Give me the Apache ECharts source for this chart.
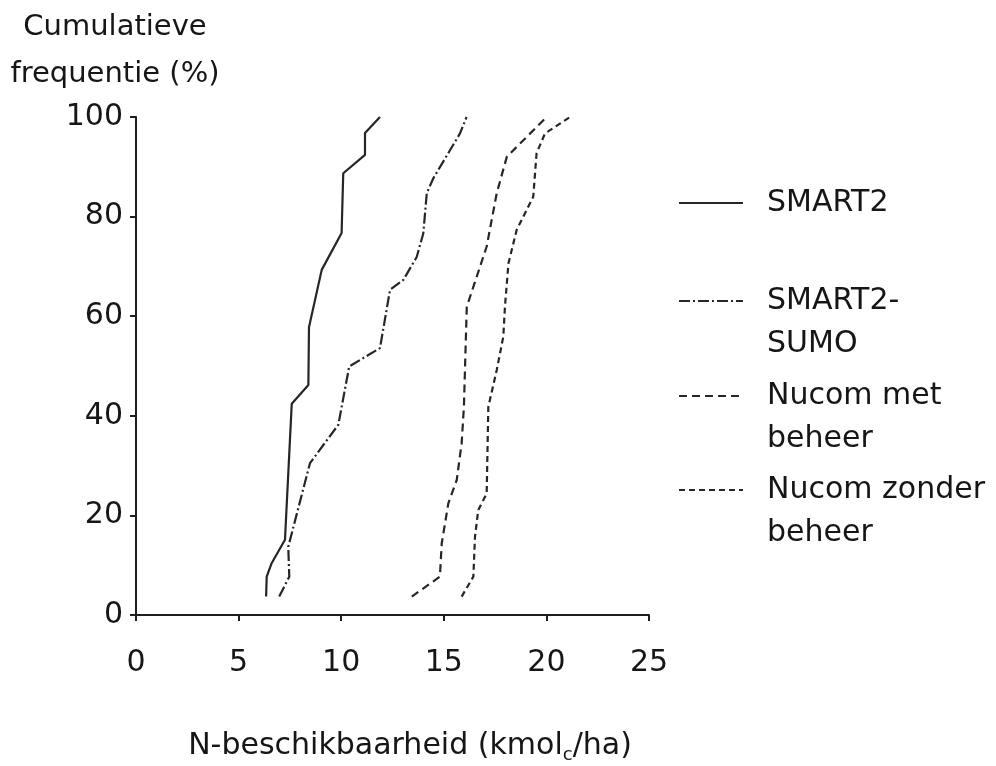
<!DOCTYPE html>
<html>
<head>
<meta charset="utf-8">
<title>N-beschikbaarheid</title>
<script src="https://cdn.jsdelivr.net/npm/echarts@6/dist/echarts.min.js"></script>
<style>
  html, body { margin: 0; padding: 0; background: #ffffff; }
  #chart { width: 996px; height: 766px; }
</style>
</head>
<body>
<div id="chart"></div>
<script>
// Cumulative frequency curves: [N availability (kmolc/ha), cumulative frequency (%)]
const smart2 = [
  [6.34, 3.7], [6.37, 7.7], [6.61, 10.4], [7.26, 15.1], [7.59, 42.4],
  [8.40, 46.2], [8.43, 57.8], [9.05, 69.3], [10.02, 76.7], [10.10, 88.7],
  [11.16, 92.4], [11.16, 96.8], [11.89, 100]
];
const smart2Sumo = [
  [6.98, 3.7], [7.47, 7.7], [7.42, 13.7], [8.48, 30.5], [9.86, 38.2],
  [10.39, 49.9], [11.89, 53.6], [12.38, 65.3], [13.03, 67.3], [13.68, 71.9],
  [14.00, 76.6], [14.17, 84.7], [14.49, 87.7], [15.79, 96.7], [16.11, 100]
];
const nucomMet = [
  [13.44, 3.7], [14.81, 7.7], [14.90, 14.4], [15.22, 22.4], [15.63, 27.1],
  [15.87, 34.5], [15.98, 41.8], [16.12, 61.9], [17.09, 74.0], [17.58, 84.7],
  [18.07, 92.0], [20.01, 100]
];
const nucomZonder = [
  [15.87, 3.7], [16.44, 7.7], [16.52, 15.7], [16.68, 21.1], [17.09, 24.4],
  [17.17, 41.8], [17.58, 49.2], [17.90, 55.9], [17.98, 61.9], [18.15, 70.6],
  [18.55, 77.3], [19.36, 84.0], [19.52, 92.7], [19.93, 96.7], [21.15, 100]
];

const seriesNames = ['SMART2', 'SMART2-SUMO', 'Nucom met beheer', 'Nucom zonder beheer'];
const legendLabels = [['SMART2'], ['SMART2-', 'SUMO'], ['Nucom met', 'beheer'], ['Nucom zonder', 'beheer']];
const xTicks = [0, 5, 10, 15, 20, 25];
const yTicks = [0, 20, 40, 60, 80, 100];

const FONT = 'DejaVu Sans';
const FS = 30;
const INK = '#161616';
const LINE = '#262626';
const LH = 43;

const chart = echarts.init(document.getElementById('chart'), null, { renderer: 'canvas' });

function lineSeries(name, data, type) {
  return {
    name: name,
    type: 'line',
    data: data,
    symbol: 'none',
    smooth: false,
    silent: true,
    lineStyle: { color: LINE, width: 2.2, type: type },
    itemStyle: { color: LINE }
  };
}

// One legend block per series. Two-line labels get an empty leading line so
// that the first text line sits level with the line sample.
const iconCenters = [203, 301, 396, 490];
const legends = seriesNames.map(function (name, i) {
  const lines = legendLabels[i];
  const text = lines.length > 1 ? '\n' + lines.join('\n') : lines[0];
  return {
    data: [name],
    orient: 'vertical',
    left: 678,
    top: lines.length > 1 ? iconCenters[i] - 1.5 * LH : iconCenters[i] - 0.5 * LH,
    padding: 0,
    itemWidth: 64,
    itemHeight: 14,
    selectedMode: false,
    itemStyle: { opacity: 0 },
    formatter: function () { return text; },
    textStyle: {
      fontFamily: FONT,
      fontSize: FS,
      color: INK,
      lineHeight: LH,
      padding: [0, 0, 0, 19]
    }
  };
});

const option = {
  backgroundColor: '#ffffff',
  animation: false,
  title: {
    text: 'Cumulatieve\nfrequentie (%)',
    left: 115,
    textAlign: 'center',
    top: 4,
    padding: 0,
    textStyle: {
      fontFamily: FONT,
      fontSize: 29,
      fontWeight: 'normal',
      color: INK,
      lineHeight: 47,
      align: 'center'
    }
  },
  legend: legends,
  grid: { left: 136, right: 347, top: 117, bottom: 151, outerBoundsMode: 'none' },
  xAxis: {
    type: 'value',
    min: xTicks[0],
    max: xTicks[xTicks.length - 1],
    interval: 5,
    name: '{t|N-beschikbaarheid (kmol}{s|c}{t|/ha)}',
    nameLocation: 'middle',
    nameGap: 113,
    nameTextStyle: {
      padding: [0, 0, 0, 35],
      rich: {
        t: { fontFamily: FONT, fontSize: FS, color: INK, lineHeight: 36 },
        s: { fontFamily: FONT, fontSize: 18, color: INK, lineHeight: 10, verticalAlign: 'bottom' }
      }
    },
    axisLine: { show: true, lineStyle: { color: '#1e1e1e', width: 2 } },
    axisTick: { show: true, length: 6, lineStyle: { color: '#1e1e1e', width: 2 } },
    axisLabel: {
      margin: 33,
      fontFamily: FONT,
      fontSize: FS,
      color: INK,
      formatter: function (v) { return xTicks.indexOf(v) >= 0 ? String(v) : ''; }
    },
    splitLine: { show: false }
  },
  yAxis: {
    type: 'value',
    min: yTicks[0],
    max: yTicks[yTicks.length - 1],
    interval: 20,
    axisLine: { show: true, lineStyle: { color: '#1e1e1e', width: 2 } },
    axisTick: { show: true, length: 6, lineStyle: { color: '#1e1e1e', width: 2 } },
    axisLabel: {
      margin: 13,
      fontFamily: FONT,
      fontSize: FS,
      color: INK,
      formatter: function (v) { return yTicks.indexOf(v) >= 0 ? String(v) : ''; }
    },
    splitLine: { show: false }
  },
  series: [
    lineSeries(seriesNames[0], smart2, 'solid'),
    lineSeries(seriesNames[1], smart2Sumo, [11, 3, 2, 3]),
    lineSeries(seriesNames[2], nucomMet, [8, 5]),
    lineSeries(seriesNames[3], nucomZonder, [6, 4])
  ]
};

chart.setOption(option);
</script>
</body>
</html>
